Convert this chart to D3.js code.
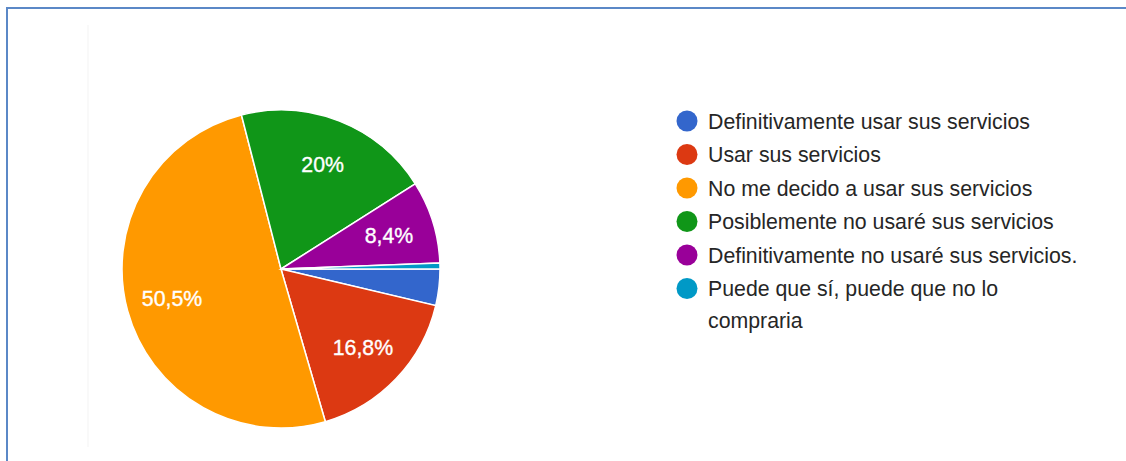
<!DOCTYPE html>
<html>
<head>
<meta charset="utf-8">
<script src="https://cdn.jsdelivr.net/npm/d3@7"></script>
<style>
  body { margin: 0; background: #fff; }
  svg { display: block; font-family: Arial, "Liberation Sans", sans-serif; }
</style>
</head>
<body>
<svg id="chart"></svg>
<script>
var svg_width = 1126;
var svg_height = 461;

// DATA
var categories = [
  "Definitivamente usar sus servicios",
  "Usar sus servicios",
  "No me decido a usar sus servicios",
  "Posiblemente no usaré sus servicios",
  "Definitivamente no usaré sus servicios.",
  "Puede que sí, puede que no lo compraria"
];
var values = [3.7, 16.8, 50.5, 20, 8.4, 0.6];
var sliceLabels = ["", "16,8%", "50,5%", "20%", "8,4%", ""];
var colors = ["#3366cc", "#dc3912", "#ff9900", "#109618", "#990099", "#0099c6"];

var cx = 281, cy = 269, radius = 159;

var svg = d3.select("#chart")
    .attr("width", svg_width)
    .attr("height", svg_height);

// frame around the screenshot
svg.append("path")
    .attr("d", "M7," + svg_height + " L7,8 L" + svg_width + ",8")
    .attr("fill", "none")
    .attr("stroke", "#5b88c7")
    .attr("stroke-width", 2);

// faint left edge of the chart image
svg.append("line")
    .attr("x1", 88).attr("x2", 88)
    .attr("y1", 25).attr("y2", 447)
    .attr("stroke", "#f3f3f3")
    .attr("stroke-width", 1);

// PIE
var pie = d3.pie()
    .sort(null)
    .startAngle(Math.PI / 2)
    .endAngle(Math.PI / 2 + 2 * Math.PI)
    .value(function(d) { return d; });

var arc = d3.arc().innerRadius(0).outerRadius(radius);
var labelArc = d3.arc().innerRadius(113).outerRadius(113);

var arcs = pie(values);

var g = svg.append("g")
    .attr("transform", "translate(" + cx + "," + cy + ")");

g.selectAll("path")
    .data(arcs)
    .enter()
    .append("path")
      .attr("d", arc)
      .attr("fill", function(d, i) { return colors[i]; })
      .attr("stroke", "#fff")
      .attr("stroke-width", 1.5);

g.selectAll("text")
    .data(arcs)
    .enter()
    .append("text")
      .attr("transform", function(d) { return "translate(" + labelArc.centroid(d) + ")"; })
      .attr("dy", "0.36em")
      .style("text-anchor", "middle")
      .attr("font-size", 21.3)
      .attr("fill", "#fff")
      .attr("stroke", "#fff")
      .attr("stroke-width", 0.35)
      .text(function(d, i) { return sliceLabels[i]; });

// LEGEND
var legendX = 687, legendY = 121, rowStep = 33.5;

var legend = svg.append("g");

var rows = legend.selectAll("g")
    .data(categories)
    .enter()
    .append("g")
      .attr("transform", function(d, i) { return "translate(" + legendX + "," + (legendY + i * rowStep) + ")"; });

rows.append("circle")
    .attr("r", 10.5)
    .attr("fill", function(d, i) { return colors[i]; });

rows.append("text")
    .attr("x", 21)
    .attr("dy", "0.36em")
    .attr("font-size", 21.3)
    .attr("fill", "#262626")
    .each(function(d, i) {
      var t = d3.select(this);
      if (i === 5) {
        t.append("tspan").attr("x", 21).text("Puede que sí, puede que no lo");
        t.append("tspan").attr("x", 21).attr("dy", 32).text("compraria");
      } else {
        t.text(d);
      }
    });
</script>
</body>
</html>
